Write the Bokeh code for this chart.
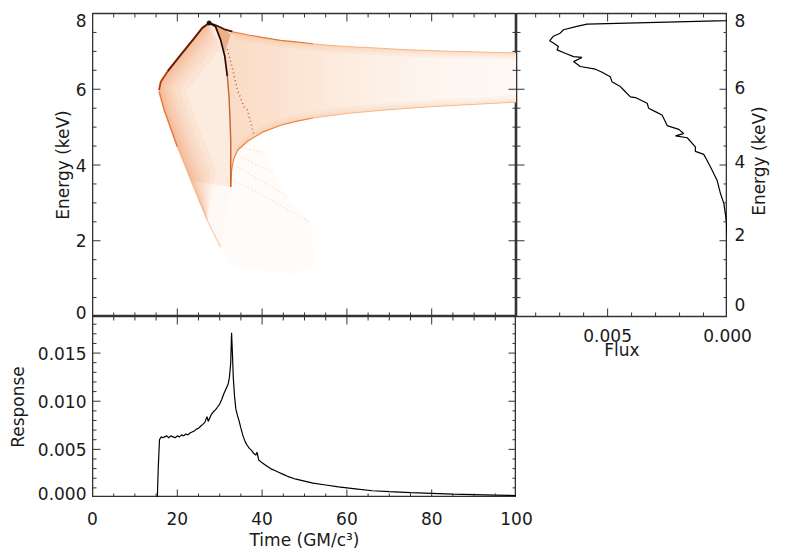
from math import pi
import numpy as np
from bokeh.plotting import figure
from bokeh.layouts import row, column
from bokeh.models import Range1d
from bokeh.core.properties import value
from bokeh.embed import file_html
from bokeh.resources import INLINE

# ---------------- data ----------------
resp_time = [0, 15.3, 15.5, 15.8, 16.2, 16.6, 17.0, 17.5, 18.0, 18.5, 19.0, 19.5, 20.0, 20.5,
             21.0, 21.5, 22.0, 22.5, 23.0, 23.5, 24.0, 24.5, 25.0, 25.5, 26.0, 26.5, 27.0, 27.3,
             27.6, 28.0, 28.5, 29.0, 29.5, 30.0, 30.5, 31.0, 31.5, 32.0, 32.3, 32.6, 32.8, 33.0,
             33.2, 33.5, 33.8, 34.2, 34.6, 35.0, 35.5, 36.0, 36.5, 37.0, 37.5, 38.0, 38.5, 38.8,
             39.2, 40.0, 41.0, 42.0, 43.0, 44.0, 45.0, 46.0, 48.0, 50.0, 52.0, 55.0, 58.0, 62.0,
             66.0, 70.0, 75.0, 80.0, 85.0, 90.0, 95.0, 100.0]
resp_value = [0, 0, 0.0030, 0.0060, 0.0063, 0.0062, 0.0063, 0.0064, 0.0062, 0.0064, 0.0063,
              0.0062, 0.0064, 0.0063, 0.0065, 0.0064, 0.0066, 0.0065, 0.0067, 0.0068, 0.0069,
              0.0071, 0.0072, 0.0074, 0.0076, 0.0078, 0.0084, 0.0079, 0.0082, 0.0086, 0.0089,
              0.0091, 0.0094, 0.0097, 0.0102, 0.0108, 0.0113, 0.0118, 0.0125, 0.0140, 0.0171,
              0.0150, 0.0125, 0.0105, 0.0092, 0.0085, 0.0079, 0.0072, 0.0064, 0.0058, 0.0054,
              0.0051, 0.0049, 0.0046, 0.0044, 0.0047, 0.0039, 0.0036, 0.0033, 0.0030, 0.0028,
              0.0026, 0.0024, 0.0022, 0.0019, 0.0017, 0.0015, 0.0013, 0.0011, 0.0009, 0.0007,
              0.0006, 0.0005, 0.00043, 0.00036, 0.0003, 0.00025, 0.0002]

flux_value = [0, 0, 0.00001, 0.00005, 0.00015, 0.00029, 0.00043, 0.00064, 0.00085, 0.00099,
              0.00134, 0.00134, 0.00168, 0.00217, 0.00183, 0.00203, 0.00252, 0.00259, 0.00273,
              0.00301, 0.00329, 0.00335, 0.00384, 0.00405, 0.00433, 0.00447, 0.00482, 0.00489,
              0.00523, 0.00551, 0.00614, 0.00642, 0.00607, 0.00642, 0.00677, 0.00711, 0.00705,
              0.00726, 0.00742, 0.00726, 0.00698, 0.00684, 0.00628, 0.00586, 0, 0]
flux_energy = [0, 1.45, 2.09, 2.53, 2.98, 3.24, 3.59, 3.86, 4.12, 4.28, 4.36, 4.48, 4.72, 4.77,
               4.83, 4.94, 5.04, 5.14, 5.32, 5.41, 5.50, 5.63, 5.78, 5.80, 5.98, 6.07, 6.20, 6.33,
               6.45, 6.53, 6.60, 6.73, 6.84, 6.86, 6.95, 7.04, 7.13, 7.22, 7.28, 7.40, 7.48, 7.57,
               7.66, 7.72, 7.81, 8.0]

# transfer-function outline curves (time, energy)
band_upper_t = [27.5, 29.1, 31.0, 33.0, 34.2, 36.5, 40.0, 44.4, 48.0, 52.0, 56.0, 60.0, 65.0,
                70.0, 75.0, 80.0, 85.0, 90.0, 95.0, 100.0]
band_upper_e = [7.75, 7.69, 7.59, 7.52, 7.49, 7.44, 7.37, 7.29, 7.25, 7.20, 7.16, 7.13, 7.10,
                7.07, 7.04, 7.02, 7.00, 6.99, 6.97, 6.96]
band_lower_t = [32.6, 32.8, 33.3, 34.2, 36.5, 40.0, 44.4, 48.0, 52.0, 56.0, 60.0, 65.0, 70.0,
                75.0, 80.0, 85.0, 90.0, 95.0, 100.0]
band_lower_e = [3.42, 3.85, 4.15, 4.39, 4.62, 4.86, 5.05, 5.15, 5.24, 5.30, 5.36, 5.41, 5.46,
                5.50, 5.54, 5.57, 5.60, 5.63, 5.66]
cusp_t = [27.5, 29.0, 30.2, 31.2, 31.8, 32.2, 32.4, 32.6, 32.6]
cusp_e = [7.75, 7.66, 7.31, 6.87, 6.34, 5.81, 5.28, 4.66, 3.42]
lobe_upper_t = [15.7, 16.1, 17.7, 20.8, 24.0, 25.9, 27.5]
lobe_upper_e = [5.98, 6.20, 6.47, 6.91, 7.35, 7.62, 7.75]
lobe_lower_t = [15.7, 16.9, 20.0, 23.2, 27.1, 30.2]
lobe_lower_e = [5.94, 5.45, 4.48, 3.59, 2.53, 1.83]
fan_t = [32.6, 34.2, 36.5, 40.4, 42.8, 45.9, 51.4, 52.5, 47.5, 40.0, 32.6, 30.2]
fan_e = [3.42, 4.39, 4.62, 4.35, 3.79, 3.17, 2.49, 1.40, 1.12, 1.20, 1.38, 1.83]
loop_t = [31.8, 33.0, 34.2, 35.0, 35.7, 36.5, 37.3, 38.1]
loop_e = [7.06, 6.55, 5.98, 5.75, 5.54, 5.45, 5.14, 4.79]
ray_t = [[34.2, 40.4], [35.0, 42.8], [34.2, 45.9], [33.4, 51.4]]
ray_e = [[4.48, 4.32], [4.20, 3.79], [3.95, 3.17], [3.60, 2.49]]
ridge_t = [27.5, 29.1, 31.0, 32.6, 32.0, 31.2, 30.2, 29.0]
ridge_e = [7.75, 7.69, 7.59, 7.45, 7.25, 6.95, 7.31, 7.66]

# axes: ticks and tick labels
time_major = [0, 20, 40, 60, 80, 100]
time_minor = [5, 10, 15, 25, 30, 35, 45, 50, 55, 65, 70, 75, 85, 90, 95]
time_labels = ["0", "20", "40", "60", "80", "100"]
energy_major = [0, 2, 4, 6, 8]
energy_minor = [0.5, 1, 1.5, 2.5, 3, 3.5, 4.5, 5, 5.5, 6.5, 7, 7.5]
energy_labels = ["0", "2", "4", "6", "8"]
flux_major = [0.0, 0.005]
flux_minor = [0.001, 0.002, 0.003, 0.004, 0.006, 0.007, 0.008]
flux_labels = ["0.000", "0.005"]
resp_major = [0.0, 0.005, 0.010, 0.015]
resp_minor = [0.001, 0.002, 0.003, 0.004, 0.006, 0.007, 0.008, 0.009, 0.011, 0.012, 0.013,
              0.014, 0.016, 0.017, 0.018]
resp_labels = ["0.000", "0.005", "0.010", "0.015"]

TIME_RANGE = (0, 100)
ENERGY_RANGE = (0, 8)
FLUX_RANGE = (0.0088, 0.0)
RESP_RANGE = (0.0, 0.0188)

# ---------------- layout constants (pixels) ----------------
LEFT_W, MAIN_W, SIDE_W, RIGHT_W = 92, 424, 211, 61
TOP_PAD, TOP_H, BOT_H = 13, 303, 181
K = 8    # label strips reach a little below the top panels
K2 = 8   # and below the response panel
FOOT_H = 550 - TOP_PAD - TOP_H - BOT_H - K2
PX_T = MAIN_W / (TIME_RANGE[1] - TIME_RANGE[0])
PX_E = TOP_H / (ENERGY_RANGE[1] - ENERGY_RANGE[0])
PX_R = BOT_H / (RESP_RANGE[1] - RESP_RANGE[0])

FONT = "DejaVu Sans"
FS = "17px"
TXT = "#1a1a1a"
TICK = "#333333"
FRAME = "#333333"
ORANGE_RGB = (240, 138, 64)


def tint(a):
    return "#%02x%02x%02x" % tuple(int(round(255 - a * (255 - c))) for c in ORANGE_RGB)


def panel(w, h, xr, yr, top=0, bottom=0):
    p = figure(width=w, height=h, x_range=xr, y_range=yr, output_backend="svg",
               toolbar_location=None, x_axis_location=None, y_axis_location=None,
               min_border_left=0, min_border_right=0, min_border_top=top,
               min_border_bottom=bottom)
    p.grid.visible = False
    p.outline_line_color = FRAME
    p.outline_line_width = 1.6
    p.background_fill_color = "white"
    p.border_fill_color = "white"
    return p


def blank(w, h, xr, yr, top=0):
    p = panel(w, h, xr, yr, top)
    p.outline_line_color = None
    return p


def edge_ticks(p, major, minor, along, edges):
    for edge in edges:
        for vals, size in ((major, 16), (minor, 8)):
            if along == "x":
                xs, ys, ang = vals, [edge] * len(vals), pi / 2
            else:
                xs, ys, ang = [edge] * len(vals), vals, 0.0
            p.scatter(xs, ys, marker="dash", size=size, angle=ang,
                      line_color=TICK, line_width=1)


def texts(p, xs, ys, labels, align, baseline, angle=0.0, dy=0):
    p.text(xs, ys, text=labels, angle=angle, text_align=align, text_baseline=baseline,
           y_offset=dy, text_font=value(FONT), text_font_size=value(FS), text_color=TXT)


# ---------------- top-left: transfer function ----------------
p1 = panel(MAIN_W, TOP_PAD + TOP_H, Range1d(*TIME_RANGE), Range1d(*ENERGY_RANGE), top=TOP_PAD)

ORANGE = tint(1.0)
p1.patch(fan_t, fan_e, fill_color=ORANGE, fill_alpha=0.03, line_color=None)
lobe_t = lobe_upper_t + cusp_t[1:] + lobe_lower_t[::-1]
lobe_e = lobe_upper_e + cusp_e[1:] + lobe_lower_e[::-1]
p1.patch(lobe_t, lobe_e, fill_color=ORANGE, fill_alpha=0.05, line_color=None)
p1.patch(lobe_upper_t + cusp_t[1:] + lobe_lower_t[3::-1],
         lobe_upper_e + cusp_e[1:] + lobe_lower_e[3::-1],
         fill_color=ORANGE, fill_alpha=0.12, line_color=None)

# dense strips hugging the lobe's left edge (gradient inward)
outer_t = lobe_upper_t[::-1] + lobe_lower_t[1:5]
outer_e = lobe_upper_e[::-1] + lobe_lower_e[1:5]
for k in (2, 4, 6, 9, 12, 16, 21, 27):
    inner_t = [lobe_upper_t[-1]]
    inner_e = [lobe_upper_e[-1]]
    for t, e in zip(lobe_upper_t[-2:0:-1], lobe_upper_e[-2:0:-1]):
        inner_t.append(t + k * 0.71 / PX_T)
        inner_e.append(e - k * 0.71 / PX_E)
    inner_t.append(lobe_upper_t[0] + k / PX_T)
    inner_e.append(lobe_upper_e[0])
    for t, e in zip(lobe_lower_t[1:4], lobe_lower_e[1:4]):
        inner_t.append(t + k * 0.93 / PX_T)
        inner_e.append(e + k * 0.37 / PX_E)
    inner_t.append(lobe_lower_t[4])
    inner_e.append(lobe_lower_e[4])
    p1.patch(outer_t + inner_t[::-1], outer_e + inner_e[::-1],
             fill_color="#ee7a2c", fill_alpha=0.06, line_color=None)

# band: opaque slices whose tint fades from the cusp to the right edge
band_t = band_upper_t + band_lower_t[::-1] + cusp_t[::-1]
band_e = band_upper_e + band_lower_e[::-1] + cusp_e[::-1]
A_LEFT, A_RIGHT = 0.30, 0.05


def band_alpha(t):
    f = (TIME_RANGE[1] - t) / (TIME_RANGE[1] - 34.0)
    return A_RIGHT + (A_LEFT - A_RIGHT) * max(f, 0.0) ** 1.6


p1.patch(band_t, band_e, fill_color=tint(A_LEFT), line_color=None)
for t0 in np.arange(34.0, 100.0, 1.0):
    t1 = min(t0 + 1.3, 100.0)
    u0, u1 = np.interp([t0, t1], band_upper_t, band_upper_e)
    l0, l1 = np.interp([t0, t1], band_lower_t, band_lower_e)
    p1.patch([t0, t1, t1, t0], [float(u0), float(u1), float(l1), float(l0)],
             fill_color=tint(band_alpha(t0 + 0.5)), line_color=None)
# denser rims just inside the band edges
for k in (2, 4, 7):
    ut, ue = band_upper_t[3:], band_upper_e[3:]
    p1.patch(ut + ut[::-1], ue + [e - k / PX_E for e in ue[::-1]],
             fill_color=ORANGE, fill_alpha=0.07, line_color=None)
    lt, le = band_lower_t[3:], band_lower_e[3:]
    p1.patch(lt + lt[::-1], le + [e + k / PX_E for e in le[::-1]],
             fill_color=ORANGE, fill_alpha=0.05, line_color=None)
p1.patch(ridge_t, ridge_e, fill_color="#d0601a", fill_alpha=0.35, line_color=None)

# caustic edges
p1.line(lobe_lower_t[:3], lobe_lower_e[:3], line_color="#e2631a", line_width=1.5, line_alpha=0.8)
p1.line(lobe_lower_t[2:], lobe_lower_e[2:], line_color="#f0914f", line_width=1.2, line_alpha=0.45)
p1.line(lobe_upper_t[:3], lobe_upper_e[:3], line_color="#b23c08", line_width=1.8)
p1.line(lobe_upper_t[2:], lobe_upper_e[2:], line_color="#6a1a00", line_width=2.0)
p1.line(band_upper_t[:4], band_upper_e[:4], line_color="#4a1000", line_width=1.8)
p1.line(band_upper_t[3:10], band_upper_e[3:10], line_color="#e0651c", line_width=1.1, line_alpha=0.85)
p1.line(band_upper_t[9:], band_upper_e[9:], line_color="#f3a468", line_width=1.0, line_alpha=0.7)
p1.line(band_lower_t[:9], band_lower_e[:9], line_color="#ec7426", line_width=1.2, line_alpha=0.85)
p1.line(band_lower_t[8:], band_lower_e[8:], line_color="#f4a66c", line_width=1.0, line_alpha=0.7)
p1.line(cusp_t[:5], cusp_e[:5], line_color="#2a0800", line_width=1.7)
p1.line(cusp_t[4:], cusp_e[4:], line_color="#c24a10", line_width=1.4, line_alpha=0.85)
p1.line(loop_t, loop_e, line_color="#a02800", line_width=1.5, line_dash="1 3", line_alpha=0.7)
p1.multi_line(ray_t, ray_e, line_color="#f19a5a", line_width=1.0, line_dash="1 3", line_alpha=0.5)
p1.scatter([lobe_upper_t[-1]], [lobe_upper_e[-1]], size=4, color="#111111")

edge_ticks(p1, time_major, time_minor, "x", ENERGY_RANGE)
edge_ticks(p1, energy_major, energy_minor, "y", TIME_RANGE)

# ---------------- right: flux spectrum ----------------
p2 = panel(SIDE_W, TOP_PAD + TOP_H + K, Range1d(*FLUX_RANGE), p1.y_range, top=TOP_PAD, bottom=K)
p2.line(flux_value, flux_energy, line_color="black", line_width=1.2)
edge_ticks(p2, flux_major, flux_minor, "x", ENERGY_RANGE)
edge_ticks(p2, energy_major, energy_minor, "y", FLUX_RANGE)

# ---------------- bottom-left: response ----------------
p3 = panel(MAIN_W, BOT_H, p1.x_range, Range1d(*RESP_RANGE))
p3.line(resp_time, resp_value, line_color="black", line_width=1.2)
edge_ticks(p3, time_major, time_minor, "x", RESP_RANGE)
edge_ticks(p3, resp_major, resp_minor, "y", TIME_RANGE)

# ---------------- tick labels and axis titles ----------------
L1 = blank(LEFT_W, TOP_PAD + TOP_H + K, Range1d(0, LEFT_W),
           Range1d(ENERGY_RANGE[0] - K / PX_E, ENERGY_RANGE[1]), top=TOP_PAD)
texts(L1, [86], energy_major[:1], energy_labels[:1], "right", "bottom", dy=2)
texts(L1, [86] * 3, energy_major[1:4], energy_labels[1:4], "right", "middle")
texts(L1, [86], energy_major[4:], energy_labels[4:], "right", "top")
texts(L1, [62], [sum(ENERGY_RANGE) / 2], ["Energy (keV)"], "center", "middle", pi / 2)

R2 = blank(RIGHT_W, TOP_PAD + TOP_H + K, Range1d(0, RIGHT_W),
           Range1d(ENERGY_RANGE[0] - K / PX_E, ENERGY_RANGE[1]), top=TOP_PAD)
texts(R2, [7], energy_major[:1], energy_labels[:1], "left", "bottom", dy=2)
texts(R2, [7] * 3, energy_major[1:4], energy_labels[1:4], "left", "middle")
texts(R2, [7], energy_major[4:], energy_labels[4:], "left", "top")
texts(R2, [31], [sum(ENERGY_RANGE) / 2], ["Energy (keV)"], "center", "middle", pi / 2)

L3 = blank(LEFT_W, BOT_H - K + K2, Range1d(0, LEFT_W),
           Range1d(RESP_RANGE[0] - K2 / PX_R, RESP_RANGE[1] - K / PX_R))
texts(L3, [86], resp_major[:1], resp_labels[:1], "right", "bottom", dy=2)
texts(L3, [86] * 3, resp_major[1:], resp_labels[1:], "right", "middle")
texts(L3, [17], [sum(RESP_RANGE) / 2], ["Response"], "center", "middle", pi / 2)

flux_px = (FLUX_RANGE[0] - FLUX_RANGE[1]) / SIDE_W
B2 = blank(SIDE_W + RIGHT_W, BOT_H - K,
           Range1d(FLUX_RANGE[0], FLUX_RANGE[1] - flux_px * RIGHT_W), Range1d(BOT_H - K, 0))
texts(B2, flux_major, [19 - K, 19 - K], flux_labels, "center", "middle")
texts(B2, [sum(FLUX_RANGE) / 2], [33 - K], ["Flux"], "center", "middle")

t_px = (TIME_RANGE[1] - TIME_RANGE[0]) / MAIN_W
B3 = blank(LEFT_W + MAIN_W + SIDE_W + RIGHT_W, FOOT_H,
           Range1d(TIME_RANGE[0] - t_px * LEFT_W, TIME_RANGE[1] + t_px * (SIDE_W + RIGHT_W)),
           Range1d(FOOT_H, 0))
texts(B3, time_major, [21 - K2] * len(time_major), time_labels, "center", "middle")
texts(B3, [sum(TIME_RANGE) / 2], [42 - K2], ["Time (GM/c³)"], "center", "middle")

layout = column(row(column(L1, L3), column(p1, p3), column(row(p2, R2), B2)), B3)
open("out.html", "w").write(file_html(layout, INLINE))
